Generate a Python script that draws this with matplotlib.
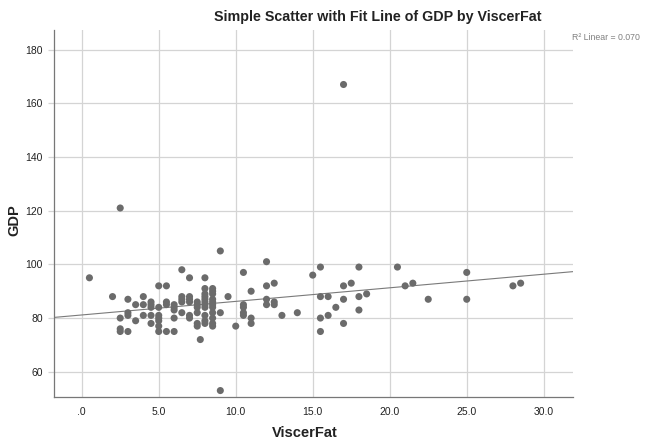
import numpy as np
import matplotlib
matplotlib.use("Agg")
import matplotlib.pyplot as plt

plt.rcParams['font.family'] = ['Liberation Sans', 'DejaVu Sans']

# (ViscerFat value, list of GDP values at that ViscerFat)
visc_groups = [0.5, 2, 2.5, 3, 3.5, 4, 4.5, 5, 5.5, 6, 6.5, 7, 7.5, 7.7, 8, 8.5,
               9, 9.5, 10, 10.5, 11, 12, 12.5, 13, 14, 15, 15.5, 16, 16.5, 17,
               17.5, 18, 18.5, 20.5, 21, 21.5, 22.5, 25, 28, 28.5]
gdp_groups = [
    [95], [88], [121, 80, 76, 75], [87, 82, 81, 75], [85, 79], [88, 85, 81],
    [86, 85, 84, 81, 78], [92, 84, 81, 80, 79, 77, 75], [92, 86, 85, 75],
    [85, 84, 83, 80, 75], [98, 88, 87, 86, 82], [95, 88, 87, 86, 81, 80],
    [86, 85, 84, 82, 78, 77], [72],
    [95, 91, 89, 88, 87, 86, 85, 84, 81, 79, 78],
    [91, 90, 89, 87, 86, 85, 84, 82, 80, 78, 77],
    [105, 82, 53], [88], [77], [97, 85, 84, 82, 81], [90, 80, 78],
    [101, 92, 87, 85], [93, 86, 85], [81], [82], [96], [99, 88, 80, 75],
    [88, 81], [84], [167, 92, 87, 78], [93], [99, 88, 83], [89], [99], [92],
    [93], [87], [97, 87], [92], [93],
]

x_ticks = [0, 5, 10, 15, 20, 25, 30]
x_tick_labels = ['.0', '5.0', '10.0', '15.0', '20.0', '25.0', '30.0']
y_ticks = [60, 80, 100, 120, 140, 160, 180]
r2_text = 'R\u00b2 Linear = 0.070'

visc = np.concatenate([[v] * len(g) for v, g in zip(visc_groups, gdp_groups)])
gdp = np.concatenate([np.array(g, dtype=float) for g in gdp_groups])

fig = plt.figure(figsize=(6.49, 4.41), dpi=100)
ax = fig.add_axes([54 / 649, 1 - 397 / 441, 519 / 649, 367 / 441])

xlim = (-1.8, 31.9)
ylim = (50.6, 187.3)
ax.set_xlim(*xlim)
ax.set_ylim(*ylim)

ax.set_xticks(x_ticks)
ax.set_xticklabels(x_tick_labels)
ax.set_yticks(y_ticks)
ax.grid(True, color='#d4d4d4', linewidth=0.9, zorder=0)
ax.set_axisbelow(True)

for s in ['top', 'right']:
    ax.spines[s].set_visible(False)
for s in ['left', 'bottom']:
    ax.spines[s].set_color('#777777')
    ax.spines[s].set_linewidth(0.9)

ax.tick_params(axis='x', length=0, pad=7, labelsize=7.5, labelcolor='#222222')
ax.tick_params(axis='y', length=4, width=0.9, color='#d4d4d4', pad=4,
               labelsize=7.5, labelcolor='#222222')

# fit line
slope, intercept = np.polyfit(visc, gdp, 1)
xs = np.array(xlim)
ax.plot(xs, intercept + slope * xs, color='#7a7a7a', linewidth=0.8, zorder=2)

ax.scatter(visc, gdp, s=26, color='#6b6b6b', edgecolors='none', zorder=3)

ax.set_xlabel('ViscerFat', fontsize=10.5, fontweight='bold', color='#222222',
              va='center')
ax.xaxis.set_label_coords(0.484, -0.098)
ax.set_ylabel('GDP', fontsize=10.5, fontweight='bold', color='#222222',
              va='center')
ax.yaxis.set_label_coords(-0.077, 0.482)

fig.text(378 / 649, 1 - 17 / 441, 'Simple Scatter with Fit Line of GDP by ViscerFat',
         ha='center', va='center', fontsize=10.3, fontweight='bold', color='#222222')
fig.text(572 / 649, 1 - 37 / 441, r2_text, ha='left', va='center',
         fontsize=6.3, color='#808080')

fig.savefig('out.png', dpi=100)
